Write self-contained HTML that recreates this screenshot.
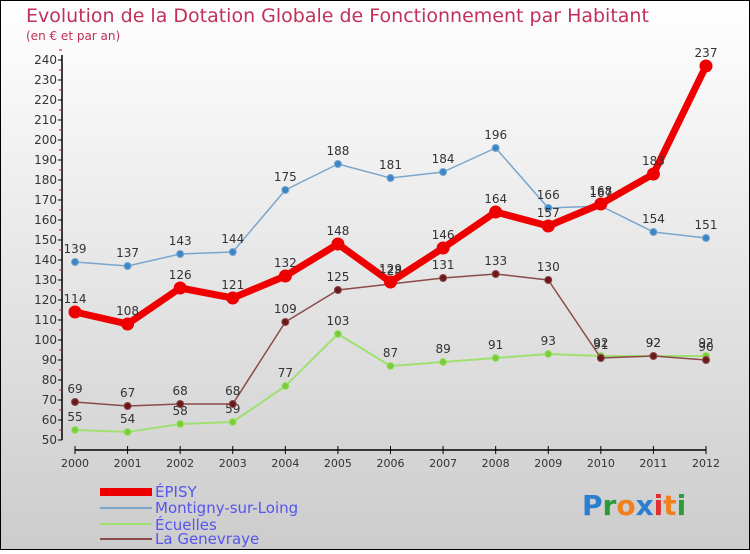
<!DOCTYPE html>
<html><head><meta charset="utf-8"><style>
body{margin:0}
#c{width:750px;height:550px;position:relative;font-family:"DejaVu Sans","Liberation Sans",sans-serif}
</style></head><body>
<div id="c">
<svg id="s" width="750" height="550" xmlns="http://www.w3.org/2000/svg">
<defs><linearGradient id="bg" x1="0" y1="0" x2="0" y2="1"><stop offset="0" stop-color="#ffffff"/><stop offset="1" stop-color="#cccccc"/></linearGradient></defs>
<rect x="0.5" y="0.5" width="749" height="549" fill="url(#bg)" stroke="#000" stroke-width="1"/>
<text x="26" y="22" font-size="19" fill="#c0305a">Evolution de la Dotation Globale de Fonctionnement par Habitant</text>
<text x="26" y="40" font-size="12" fill="#c0305a">(en € et par an)</text>
<g id="axes"></g><g id="marks"></g>
<g>
<rect x="100" y="488" width="52" height="8" fill="#e00"/>
<line x1="100" y1="508" x2="152" y2="508" stroke="#7aa6cc" stroke-width="2"/>
<line x1="100" y1="524" x2="152" y2="524" stroke="#9fe070" stroke-width="2"/>
<line x1="100" y1="539" x2="152" y2="539" stroke="#8a4a4a" stroke-width="2"/>
<text x="155" y="497" font-size="15" fill="#5555ee">ÉPISY</text>
<text x="155" y="513" font-size="15" fill="#5555ee">Montigny-sur-Loing</text>
<text x="155" y="530" font-size="15" fill="#5555ee">Écuelles</text>
<text x="155" y="544" font-size="15" fill="#5555ee">La Genevraye</text>
</g>
<g font-size="28" font-weight="bold" font-family="DejaVu Sans, sans-serif">
<text x="582" y="515"><tspan fill="#2a7fd0">P</tspan><tspan fill="#2a9a3a">r</tspan><tspan fill="#f08020">o</tspan><tspan fill="#2a7fd0">x</tspan><tspan fill="#e03030">i</tspan><tspan fill="#f08020">t</tspan><tspan fill="#2a9a3a">i</tspan></text>
</g>
</svg></div>
<script>
const years=[2000,2001,2002,2003,2004,2005,2006,2007,2008,2009,2010,2011,2012];
const episy=[114,108,126,121,132,148,129,146,164,157,168,183,237];
const montigny=[139,137,143,144,175,188,181,184,196,166,167,154,151];
const ecuelles=[55,54,58,59,77,103,87,89,91,93,92,92,92];
const genevraye=[69,67,68,68,109,125,128,131,133,130,91,92,90];
const yTicks=[50,60,70,80,90,100,110,120,130,140,150,160,170,180,190,200,210,220,230,240];
const NS="http://www.w3.org/2000/svg";
function x(i){return 75+i*(706-75)/12;}
function y(v){return 440-(v-50)*2;}
function mk(p,t,a){const e=document.createElementNS(NS,t);for(const k in a)e.setAttribute(k,a[k]);p.appendChild(e);return e;}
const ax=document.getElementById('axes'),mg=document.getElementById('marks');
const ya=mk(ax,'line',{x1:62,y1:55,x2:62,y2:440,stroke:'#000','stroke-width':1.5});


yTicks.forEach(v=>{mk(ax,'line',{x1:58,y1:y(v),x2:62,y2:y(v),stroke:'#000'});
mk(ax,'line',{x1:59,y1:y(v+5),x2:62,y2:y(v+5),stroke:'#e00'});
const t=mk(ax,'text',{x:57,y:y(v)+4,'font-size':12,fill:'#333','text-anchor':'end'});t.textContent=v;

});
const xa=mk(ax,'line',{x1:75,y1:450,x2:706,y2:450,stroke:'#000','stroke-width':1.5});


years.forEach((yr,i)=>{mk(ax,'line',{x1:x(i),y1:446,x2:x(i),y2:454,stroke:'#000'});
const t=mk(ax,'text',{x:x(i),y:467,'font-size':11,fill:'#333','text-anchor':'middle'});t.textContent=yr;

});
function series(d,name,col,w,r,dot,lab){
const g=mk(mg,'g',{});


mk(g,'polyline',{points:d.map((v,i)=>x(i)+','+y(v)).join(' '),fill:'none',stroke:col,'stroke-width':w,'stroke-linejoin':'round'});
d.forEach((v,i)=>{const c=mk(g,'circle',{cx:x(i),cy:y(v),r:r,fill:dot,stroke:col,'stroke-width':1});


const t=mk(g,'text',{x:x(i),y:y(v)-9,'font-size':12,fill:'#333','text-anchor':'middle'});t.textContent=v;

});}
series(ecuelles,'ecuelles','#9fe070',2,3.5,'#7acc3a');
series(genevraye,'la-genevraye','#8a4a4a',1.5,3.5,'#6a1a1a');
series(montigny,'montigny','#7aa6cc',1.5,3.5,'#3a86c8');
series(episy,'episy','#ee0000',7,6,'#ee0000');
</script>
</body></html>
